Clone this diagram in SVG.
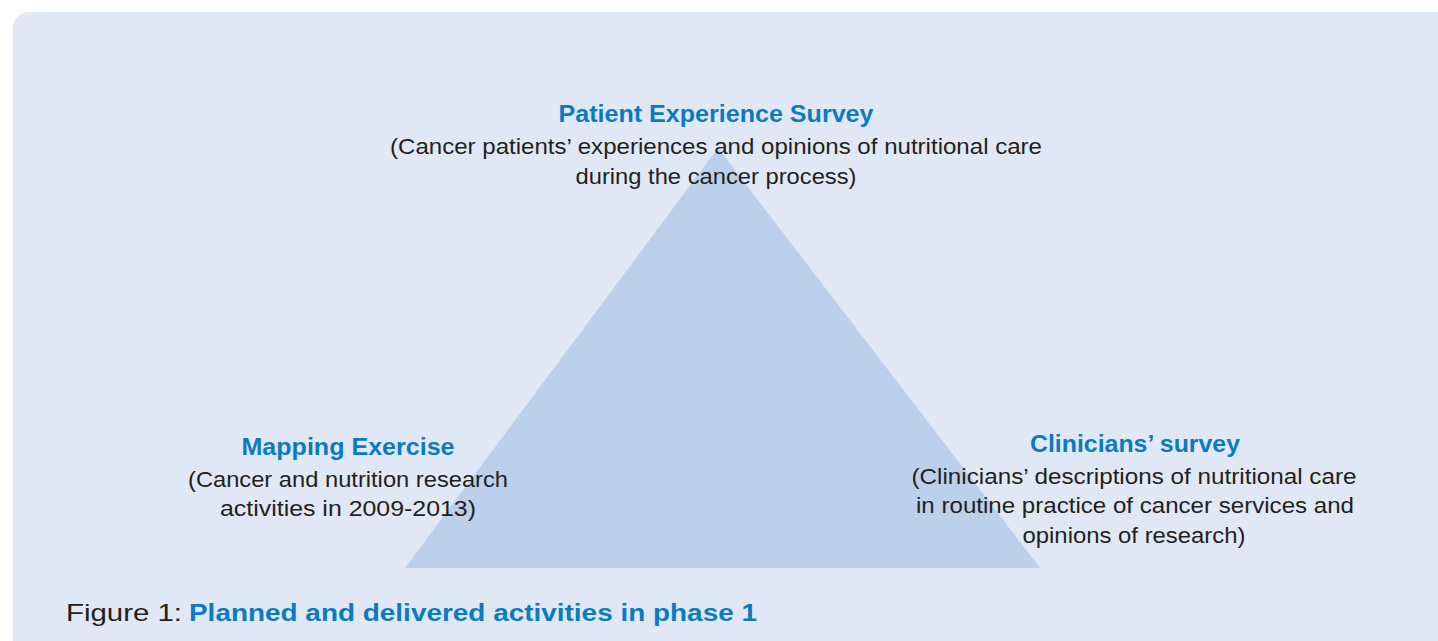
<svg xmlns="http://www.w3.org/2000/svg" width="1438" height="641" viewBox="0 0 1438 641">
<style>
.title{font-family:"Liberation Sans",Arial,sans-serif;font-weight:bold;font-size:24px;fill:#0a7bc3;text-anchor:middle}
.body{font-family:"Liberation Sans",Arial,sans-serif;font-size:22.5px;fill:#231f20;text-anchor:middle}
.cap{font-family:"Liberation Sans",Arial,sans-serif;font-size:24px;fill:#231f20}
.capb{font-family:"Liberation Sans",Arial,sans-serif;font-weight:bold;font-size:24px;fill:#0a7bc3}
</style>
<rect x="0" y="0" width="1438" height="641" fill="#ffffff"/>
<rect x="13" y="12" width="1450" height="660" rx="16" ry="16" fill="#e1e8f5"/>
<polygon points="718,148 1040,568 405,568" fill="#bcd0ec"/>
<g id="patient-survey">
<text class="title" x="716" y="122" textLength="315" lengthAdjust="spacingAndGlyphs">Patient Experience Survey</text>
<text class="body" x="716" y="154" textLength="652" lengthAdjust="spacingAndGlyphs">(Cancer patients’ experiences and opinions of nutritional care</text>
<text class="body" x="716" y="184" textLength="281" lengthAdjust="spacingAndGlyphs">during the cancer process)</text>
</g>
<g id="mapping-exercise">
<text class="title" x="348" y="455" textLength="213" lengthAdjust="spacingAndGlyphs">Mapping Exercise</text>
<text class="body" x="348" y="487" textLength="320" lengthAdjust="spacingAndGlyphs">(Cancer and nutrition research</text>
<text class="body" x="348" y="516" textLength="256" lengthAdjust="spacingAndGlyphs">activities in 2009-2013)</text>
</g>
<g id="clinicians-survey">
<text class="title" x="1135" y="452" textLength="210" lengthAdjust="spacingAndGlyphs">Clinicians’ survey</text>
<text class="body" x="1134" y="484" textLength="445" lengthAdjust="spacingAndGlyphs">(Clinicians’ descriptions of nutritional care</text>
<text class="body" x="1135" y="513" textLength="438" lengthAdjust="spacingAndGlyphs">in routine practice of cancer services and</text>
<text class="body" x="1134" y="543" textLength="223" lengthAdjust="spacingAndGlyphs">opinions of research)</text>
</g>
<g id="connectors"></g>
<g id="caption">
<text class="cap" x="66" y="621" textLength="116" lengthAdjust="spacingAndGlyphs">Figure 1:</text>
<text class="capb" x="189" y="621" textLength="568" lengthAdjust="spacingAndGlyphs">Planned and delivered activities in phase 1</text>
</g>
</svg>
